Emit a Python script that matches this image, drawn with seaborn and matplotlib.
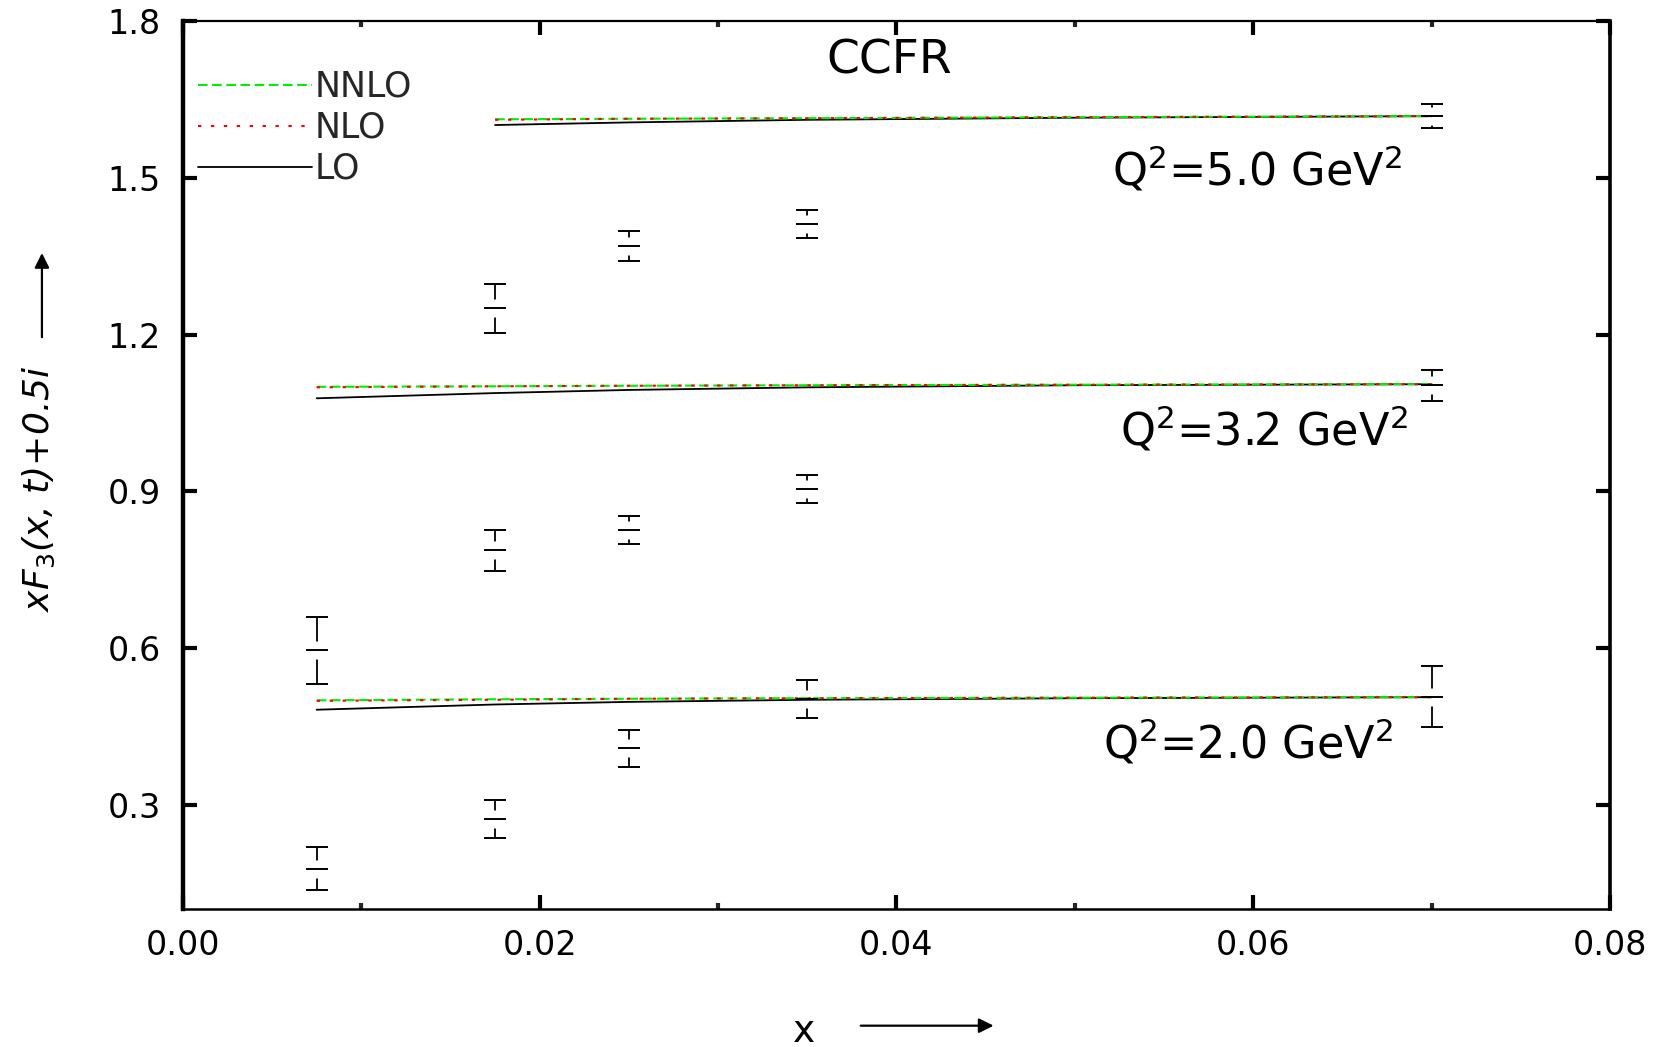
import matplotlib
matplotlib.use("Agg")
import matplotlib.pyplot as plt
from matplotlib.ticker import MultipleLocator, FormatStrFormatter
import seaborn as sns

# CCFR xF3 measurements, shifted by +0.5*i (i = 0, 1, 2 for Q^2 = 2.0, 3.2, 5.0 GeV^2)
x_data = [0.0075, 0.0175, 0.025, 0.035, 0.07]
q2_20_y = [0.178, 0.273, 0.408, 0.503, 0.507]
q2_20_err = [0.041, 0.036, 0.035, 0.036, 0.058]
q2_32_y = [0.596, 0.787, 0.826, 0.904, 1.103]
q2_32_err = [0.064, 0.039, 0.026, 0.027, 0.030]
x_data_50 = [0.0175, 0.025, 0.035, 0.07]
q2_50_y = [1.250, 1.369, 1.412, 1.618]
q2_50_err = [0.047, 0.029, 0.027, 0.023]

# Theory curves (LO, NLO, NNLO)
x_curve = [0.0075, 0.0175, 0.025, 0.035, 0.05, 0.07]
lo_20 = [0.482, 0.492, 0.497, 0.501, 0.504, 0.506]
nlo_20 = [0.499, 0.501, 0.503, 0.504, 0.505, 0.506]
nnlo_20 = [0.500, 0.502, 0.503, 0.504, 0.505, 0.506]
lo_32 = [1.078, 1.088, 1.094, 1.099, 1.103, 1.105]
nlo_32 = [1.099, 1.101, 1.102, 1.103, 1.104, 1.105]
nnlo_32 = [1.100, 1.101, 1.102, 1.103, 1.104, 1.105]
x_curve_50 = [0.0175, 0.025, 0.035, 0.05, 0.07]
lo_50 = [1.601, 1.606, 1.611, 1.615, 1.618]
nlo_50 = [1.611, 1.613, 1.614, 1.616, 1.618]
nnlo_50 = [1.612, 1.613, 1.614, 1.616, 1.618]

q2_labels = [r"Q$^2$=2.0 GeV$^2$", r"Q$^2$=3.2 GeV$^2$", r"Q$^2$=5.0 GeV$^2$"]
q2_label_pos = [(0.0597, 0.418), (0.0606, 1.0175), (0.0602, 1.515)]

sns.set_theme(style="ticks")
plt.rcParams["font.family"] = ["DejaVu Sans"]
plt.rcParams["mathtext.fontset"] = "dejavusans"

fig = plt.figure(figsize=(16.66, 10.47), dpi=100)
ax = fig.add_axes([0.1098, 0.1315, 0.8566, 0.8484])

# theory curves
curve_sets = [
    (x_curve, lo_20, nlo_20, nnlo_20, True),
    (x_curve, lo_32, nlo_32, nnlo_32, False),
    (x_curve_50, lo_50, nlo_50, nnlo_50, False),
]
for xs, lo, nlo, nnlo, first in curve_sets:
    sns.lineplot(x=xs, y=lo, ax=ax, color="black", lw=1.3, zorder=3,
                 label="LO" if first else None, legend=False)
    sns.lineplot(x=xs, y=nnlo, ax=ax, color="#00ee00", lw=1.5,
                 linestyle=(0, (4.6, 2.2)), zorder=4,
                 label="NNLO" if first else None, legend=False)
    sns.lineplot(x=xs, y=nlo, ax=ax, color="#ff0000", lw=1.5,
                 linestyle=(0, (1.6, 4.6)), zorder=5,
                 label="NLO" if first else None, legend=False)

# data points: error bar broken around the central dash
point_sets = [
    (x_data, q2_20_y, q2_20_err),
    (x_data, q2_32_y, q2_32_err),
    (x_data_50, q2_50_y, q2_50_err),
]
for xs, ys, errs in point_sets:
    ax.errorbar(xs, ys, yerr=errs, fmt="none", ecolor="black",
                elinewidth=1.3, capsize=7.6, capthick=1.4, zorder=2)
    ax.plot(xs, ys, linestyle="none", marker="|", markersize=12.5,
            markeredgewidth=3.5, color="white", zorder=2.5)
    ax.plot(xs, ys, linestyle="none", marker="_", markersize=15.5,
            markeredgewidth=1.4, color="black", zorder=6)

for txt, (tx, ty) in zip(q2_labels, q2_label_pos):
    ax.text(tx, ty, txt, fontsize=32, ha="center", va="center", color="black")

ax.text(0.0396, 1.723, "CCFR", fontsize=34, ha="center", va="center", color="black")

ax.set_xlim(0.0, 0.08)
ax.set_ylim(0.1, 1.8)
ax.xaxis.set_major_locator(MultipleLocator(0.02))
ax.xaxis.set_minor_locator(MultipleLocator(0.01))
ax.yaxis.set_major_locator(MultipleLocator(0.3))
ax.xaxis.set_major_formatter(FormatStrFormatter("%.2f"))
ax.yaxis.set_major_formatter(FormatStrFormatter("%.1f"))
ax.tick_params(axis="both", which="major", direction="in", length=10, width=3,
               top=True, right=True, labelsize=24, pad=14, colors="black")
ax.tick_params(axis="x", which="minor", direction="in", length=4.5, width=3,
               top=True, bottom=True)
ax.tick_params(axis="y", which="both", pad=16)
ax.tick_params(axis="x", which="major", pad=14)

for side, lw in [("left", 3.2), ("right", 2.6), ("top", 1.6), ("bottom", 1.8)]:
    ax.spines[side].set_linewidth(lw)
    ax.spines[side].set_color("black")

# axis titles with direction arrows
ax.set_xlabel("x", fontsize=27, color="black")
ax.xaxis.set_label_coords(0.435, -0.118)
ax.set_ylabel(r"x$F_3$(x, $t$)+0.5$i$", fontsize=26, style="italic", color="black")
ax.yaxis.set_label_coords(-0.088, 0.473)
ax.annotate("", xy=(0.570, -0.131), xytext=(0.473, -0.131), xycoords="axes fraction",
            arrowprops=dict(arrowstyle="-|>", color="black", lw=1.6, mutation_scale=22),
            annotation_clip=False)
ax.annotate("", xy=(-0.0988, 0.742), xytext=(-0.0988, 0.641), xycoords="axes fraction",
            arrowprops=dict(arrowstyle="-|>", color="black", lw=1.6, mutation_scale=22),
            annotation_clip=False)

handles, labels = ax.get_legend_handles_labels()
order = [labels.index(k) for k in ["NNLO", "NLO", "LO"]]
ax.legend([handles[i] for i in order], [labels[i] for i in order],
          loc="upper left", bbox_to_anchor=(0.0105, 0.945), frameon=False,
          fontsize=25, handlelength=3.3, handletextpad=0.05, labelspacing=0.2,
          borderpad=0, borderaxespad=0)

fig.savefig("out.png", dpi=100)
